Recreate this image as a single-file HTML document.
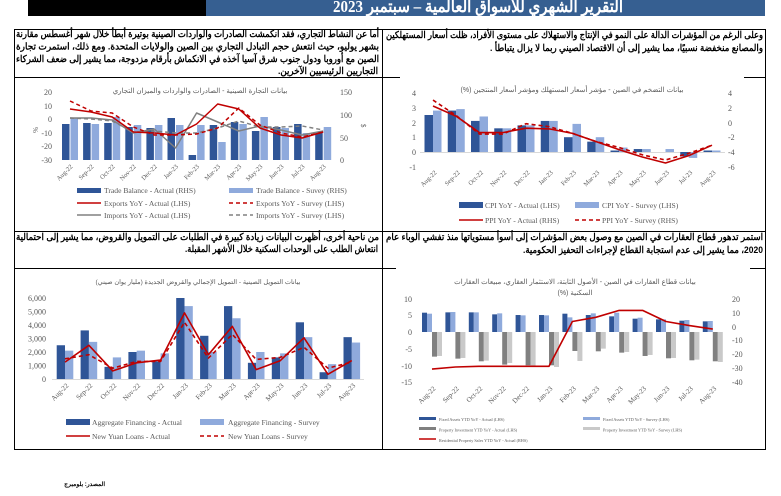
<!DOCTYPE html>
<html><head><meta charset="utf-8">
<style>
html,body{margin:0;padding:0;background:#fff;}
#wrap{position:relative;width:781px;height:496px;overflow:hidden;}
svg{position:absolute;left:0;top:0;}
svg text{font-family:"Liberation Serif",serif;fill:#595959;}
svg text.ar{font-family:"Liberation Sans","Noto Sans CJK SC",sans-serif;font-weight:bold;font-size:9.5px;fill:#000;}
</style></head><body>
<div id="wrap">
<svg width="781" height="496" viewBox="0 0 781 496" id="s">
<rect x="28" y="0" width="178" height="16" fill="#000"/>
<rect x="206" y="0" width="559" height="16" fill="#365F91"/>
<text x="623" y="12" text-anchor="start" direction="rtl" textLength="290" lengthAdjust="spacingAndGlyphs" style="font-family:'Liberation Serif',serif;font-weight:bold;font-size:17px;fill:#fff">التقرير الشهري للأسواق العالمية – سبتمبر 2023</text>
<g stroke="#000" stroke-width="1" fill="none">
<line x1="14" y1="29.5" x2="765" y2="29.5"/>
<line x1="14.5" y1="29" x2="14.5" y2="449"/>
<line x1="382.5" y1="29" x2="382.5" y2="449"/>
<line x1="765.5" y1="29" x2="765.5" y2="449"/>
<line x1="14" y1="449.5" x2="766" y2="449.5"/>
<line x1="14" y1="77.5" x2="382" y2="77.5"/>
<line x1="382" y1="77.5" x2="400" y2="77.5"/>
<line x1="744" y1="77.5" x2="765" y2="77.5"/>
<line x1="14" y1="231.5" x2="765" y2="231.5"/>
<line x1="14" y1="268.5" x2="382" y2="268.5"/>
<line x1="382" y1="268.5" x2="396" y2="268.5"/>
<line x1="750" y1="268.5" x2="765" y2="268.5"/>
</g>

<!-- paragraphs -->
<text class="ar" direction="rtl" text-anchor="start" x="379" y="37" textLength="363" lengthAdjust="spacingAndGlyphs">أما عن النشاط التجاري، فقد انكمشت الصادرات والواردات الصينية بوتيرة أبطأ خلال شهر أغسطس مقارنة</text>
<text class="ar" direction="rtl" text-anchor="start" x="379" y="49.5" textLength="363" lengthAdjust="spacingAndGlyphs">بشهر يوليو، حيث انتعش حجم التبادل التجاري بين الصين والولايات المتحدة. ومع ذلك، استمرت تجارة</text>
<text class="ar" direction="rtl" text-anchor="start" x="379" y="62" textLength="363" lengthAdjust="spacingAndGlyphs">الصين مع أوروبا ودول جنوب شرق آسيا آخذه في الانكماش بأرقام مزدوجة، مما يشير إلى ضعف الشركاء</text>
<text class="ar" direction="rtl" text-anchor="start" x="378" y="74" textLength="100" lengthAdjust="spacingAndGlyphs">التجاريين الرئيسيين الآخرين.</text>

<text class="ar" direction="rtl" text-anchor="start" x="763" y="38" textLength="377" lengthAdjust="spacingAndGlyphs">وعلى الرغم من المؤشرات الدالة على النمو في الإنتاج والاستهلاك على مستوى الأفراد، ظلت أسعار المستهلكين</text>
<text class="ar" direction="rtl" text-anchor="start" x="763" y="51" textLength="273" lengthAdjust="spacingAndGlyphs">والمصانع منخفضة نسبيًا، مما يشير إلى أن الاقتصاد الصيني ربما لا يزال يتباطأ .</text>

<text class="ar" direction="rtl" text-anchor="start" x="379" y="240" textLength="363" lengthAdjust="spacingAndGlyphs">من ناحية أخرى، أظهرت البيانات زيادة كبيرة في الطلبات على التمويل والقروض، مما يشير إلى احتمالية</text>
<text class="ar" direction="rtl" text-anchor="start" x="378" y="252" textLength="193" lengthAdjust="spacingAndGlyphs">انتعاش الطلب على الوحدات السكنية خلال الأشهر المقبلة.</text>

<text class="ar" direction="rtl" text-anchor="start" x="763" y="240" textLength="377" lengthAdjust="spacingAndGlyphs">استمر تدهور قطاع العقارات في الصين مع وصول بعض المؤشرات إلى أسوأ مستوياتها منذ تفشي الوباء عام</text>
<text class="ar" direction="rtl" text-anchor="start" x="763" y="253" textLength="240" lengthAdjust="spacingAndGlyphs">2020، مما يشير إلى عدم استجابة القطاع لإجراءات التحفيز الحكومية.</text>

<g id="shapes"></g>

<!-- Chart 1 text -->
<text x="200" y="93" text-anchor="middle" direction="rtl" style="font-family:'Liberation Sans',sans-serif;font-size:7px">بيانات التجارة الصينية - الصادرات والواردات والميزان التجاري</text>
<g style="font-size:8px" text-anchor="end">
<text x="52" y="95">20</text><text x="52" y="109">10</text><text x="52" y="122">0</text><text x="52" y="136">-10</text><text x="52" y="149">-20</text><text x="52" y="163">-30</text>
</g>
<g style="font-size:8px" text-anchor="start">
<text x="340" y="95">150</text><text x="340" y="118">100</text><text x="340" y="141">50</text><text x="340" y="163">0</text>
</g>
<text x="0" y="0" transform="translate(33,127) rotate(90)" style="font-size:7px">%</text>
<text x="0" y="0" transform="translate(361,124) rotate(90)" style="font-size:7px">$</text>
<g style="font-size:6.5px" text-anchor="end">
<text transform="translate(73,167) rotate(-45)">Aug-22</text>
<text transform="translate(94.1,167) rotate(-45)">Sep-22</text>
<text transform="translate(115.2,167) rotate(-45)">Oct-22</text>
<text transform="translate(136.3,167) rotate(-45)">Nov-22</text>
<text transform="translate(157.4,167) rotate(-45)">Dec-22</text>
<text transform="translate(178.5,167) rotate(-45)">Jan-23</text>
<text transform="translate(199.6,167) rotate(-45)">Feb-23</text>
<text transform="translate(220.7,167) rotate(-45)">Mar-23</text>
<text transform="translate(241.8,167) rotate(-45)">Apr-23</text>
<text transform="translate(262.9,167) rotate(-45)">May-23</text>
<text transform="translate(284,167) rotate(-45)">Jun-23</text>
<text transform="translate(305.1,167) rotate(-45)">Jul-23</text>
<text transform="translate(326.2,167) rotate(-45)">Aug-23</text>
</g>
<g style="font-size:7.6px">
<text x="104" y="193">Trade Balance - Actual (RHS)</text>
<text x="256" y="193">Trade Balance - Suvey (RHS)</text>
<text x="104" y="206">Exports YoY - Actual (LHS)</text>
<text x="256" y="206">Exports YoY - Survey (LHS)</text>
<text x="104" y="218">Imports YoY - Actual (LHS)</text>
<text x="256" y="218">Imports YoY - Survey (LHS)</text>
</g>

<!-- Chart 2 text -->
<text x="572" y="92" text-anchor="middle" direction="rtl" style="font-family:'Liberation Sans',sans-serif;font-size:7px">بيانات التضخم في الصين - مؤشر أسعار المستهلك ومؤشر أسعار المنتجين (%)</text>
<g style="font-size:8px" text-anchor="end">
<text x="416" y="96">4</text><text x="416" y="111">3</text><text x="416" y="126">2</text><text x="416" y="140">1</text><text x="416" y="155">0</text><text x="416" y="170">-1</text>
</g>
<g style="font-size:8px" text-anchor="start">
<text x="728" y="96">4</text><text x="728" y="111">2</text><text x="728" y="126">0</text><text x="728" y="140">-2</text><text x="728" y="155">-4</text><text x="728" y="170">-6</text>
</g>
<g style="font-size:6.5px" text-anchor="end">
<text transform="translate(437,173) rotate(-45)">Aug-22</text>
<text transform="translate(460.25,173) rotate(-45)">Sep-22</text>
<text transform="translate(483.5,173) rotate(-45)">Oct-22</text>
<text transform="translate(506.75,173) rotate(-45)">Nov-22</text>
<text transform="translate(530,173) rotate(-45)">Dec-22</text>
<text transform="translate(553.25,173) rotate(-45)">Jan-23</text>
<text transform="translate(576.5,173) rotate(-45)">Feb-23</text>
<text transform="translate(599.75,173) rotate(-45)">Mar-23</text>
<text transform="translate(623,173) rotate(-45)">Apr-23</text>
<text transform="translate(646.25,173) rotate(-45)">May-23</text>
<text transform="translate(669.5,173) rotate(-45)">Jun-23</text>
<text transform="translate(692.75,173) rotate(-45)">Jul-23</text>
<text transform="translate(716,173) rotate(-45)">Aug-23</text>
</g>
<g style="font-size:7.6px">
<text x="485" y="208">CPI YoY - Actual (LHS)</text>
<text x="602" y="208">CPI YoY - Survey (LHS)</text>
<text x="485" y="223">PPI YoY - Actual (RHS)</text>
<text x="602" y="223">PPI YoY - Survey (RHS)</text>
</g>

<!-- Chart 3 text -->
<text x="198" y="284" text-anchor="middle" direction="rtl" style="font-family:'Liberation Sans',sans-serif;font-size:6.5px">بيانات التمويل الصينية - التمويل الإجمالي والقروض الجديدة (مليار يوان صيني)</text>
<g style="font-size:8px" text-anchor="end">
<text x="46" y="301">6,000</text><text x="46" y="314.5">5,000</text><text x="46" y="328">4,000</text><text x="46" y="341.5">3,000</text><text x="46" y="355">2,000</text><text x="46" y="368.5">1,000</text><text x="46" y="382">0</text>
</g>
<g style="font-size:7px" text-anchor="end">
<text transform="translate(69,386) rotate(-45)">Aug-22</text>
<text transform="translate(92.9,386) rotate(-45)">Sep-22</text>
<text transform="translate(116.8,386) rotate(-45)">Oct-22</text>
<text transform="translate(140.7,386) rotate(-45)">Nov-22</text>
<text transform="translate(164.6,386) rotate(-45)">Dec-22</text>
<text transform="translate(188.5,386) rotate(-45)">Jan-23</text>
<text transform="translate(212.4,386) rotate(-45)">Feb-23</text>
<text transform="translate(236.3,386) rotate(-45)">Mar-23</text>
<text transform="translate(260.2,386) rotate(-45)">Apr-23</text>
<text transform="translate(284.1,386) rotate(-45)">May-23</text>
<text transform="translate(308,386) rotate(-45)">Jun-23</text>
<text transform="translate(331.9,386) rotate(-45)">Jul-23</text>
<text transform="translate(355.8,386) rotate(-45)">Aug-23</text>
</g>
<g style="font-size:7.6px">
<text x="92" y="425">Aggregate Financing - Actual</text>
<text x="228" y="425">Aggregate Financing - Survey</text>
<text x="92" y="439">New Yuan Loans - Actual</text>
<text x="228" y="439">New Yuan Loans - Survey</text>
</g>
<text x="105" y="486" text-anchor="start" direction="rtl" style="font-family:'Liberation Sans',sans-serif;font-size:6px;font-weight:bold;fill:#000">المصدر: بلومبرج</text>

<!-- Chart 4 text -->
<text x="575" y="284" text-anchor="middle" direction="rtl" style="font-family:'Liberation Sans',sans-serif;font-size:7px">بيانات قطاع العقارات في الصين - الأصول الثابتة، الاستثمار العقاري، مبيعات العقارات</text>
<text x="575" y="295" text-anchor="middle" direction="rtl" style="font-family:'Liberation Sans',sans-serif;font-size:7px">السكنية (%)</text>
<g style="font-size:8px" text-anchor="end">
<text x="412" y="302">10</text><text x="412" y="318">5</text><text x="412" y="335">0</text><text x="412" y="352">-5</text><text x="412" y="369">-10</text><text x="412" y="385">-15</text>
</g>
<g style="font-size:8px" text-anchor="start">
<text x="732" y="302">20</text><text x="732" y="316">10</text><text x="732" y="330">0</text><text x="732" y="343">-10</text><text x="732" y="357">-20</text><text x="732" y="371">-30</text><text x="732" y="385">-40</text>
</g>
<g style="font-size:7px" text-anchor="end">
<text transform="translate(436,389) rotate(-45)">Aug-22</text>
<text transform="translate(459.4,389) rotate(-45)">Sep-22</text>
<text transform="translate(482.8,389) rotate(-45)">Oct-22</text>
<text transform="translate(506.2,389) rotate(-45)">Nov-22</text>
<text transform="translate(529.6,389) rotate(-45)">Dec-22</text>
<text transform="translate(553,389) rotate(-45)">Jan-23</text>
<text transform="translate(576.4,389) rotate(-45)">Feb-23</text>
<text transform="translate(599.8,389) rotate(-45)">Mar-23</text>
<text transform="translate(623.2,389) rotate(-45)">Apr-23</text>
<text transform="translate(646.6,389) rotate(-45)">May-23</text>
<text transform="translate(670,389) rotate(-45)">Jun-23</text>
<text transform="translate(693.4,389) rotate(-45)">Jul-23</text>
<text transform="translate(716.8,389) rotate(-45)">Aug-23</text>
</g>
<g style="font-size:4.2px">
<text x="439" y="421">Fixed Assets YTD YoY - Actual (LHS)</text>
<text x="603" y="421">Fixed Assets YTD YoY - Survey (LHS)</text>
<text x="439" y="431.5">Property Investment YTD YoY - Actual (LHS)</text>
<text x="603" y="431.5">Property Investment YTD YoY - Survey (LHS)</text>
<text x="439" y="442">Residential Property Sales YTD YoY - Actual (RHS)</text>
</g>
</svg>
</div>
<script>
(function(){
var NS="http://www.w3.org/2000/svg",g=document.getElementById("shapes");
function el(t,a){var e=document.createElementNS(NS,t);for(var k in a)e.setAttribute(k,a[k]);g.appendChild(e);return e;}
function bar(x,w,y1,y2,c){el("rect",{x:x,y:Math.min(y1,y2),width:w,height:Math.abs(y2-y1),fill:c});}
function line(xs,ys,c,dash,sw){var p=xs.map(function(x,i){return x.toFixed(1)+","+ys[i].toFixed(1)}).join(" ");var a={points:p,fill:"none",stroke:c,"stroke-width":sw||1.6,"stroke-linejoin":"round"};if(dash)a["stroke-dasharray"]=dash;el("polyline",a);}
var DB="#2F5597",LB="#8FAADC",RED="#C00000",GR="#808080",LG="#C9C9C9";
var i,xs;
xs=[];for(i=0;i<13;i++)xs.push(70+i*21.1);
var ta=[124,123,123,127,128,118,155,125,122,131,127,124,132];
var ts=[118,124,117,125,125,125,125,142,124,117,128,133,127];
for(i=0;i<13;i++){bar(xs[i]-8,7.5,ta[i],160,DB);bar(xs[i]+0.5,7.5,ts[i],160,LB);}
line(xs,[118,118,120,133,129,148,113,122,131,126,130,135,131],GR,null,1.5);
line(xs,[118,119,121,132,131,133,133,128,121,127,127,126,130],GR,"4,3",1.5);
line(xs,[109,112,117,132,133,135,124,104,109,128,135,138,132],RED,null,1.5);
line(xs,[101,111,113,127,135,135,134,128,108,125,133,137,132],RED,"4,3",1.5);
bar(77,24,188,193,DB);bar(229,24,188,193,LB);
el("line",{x1:77,y1:203,x2:101,y2:203,stroke:RED,"stroke-width":1.6});
el("line",{x1:229,y1:203,x2:253,y2:203,stroke:RED,"stroke-width":1.6,"stroke-dasharray":"4,3"});
el("line",{x1:77,y1:215,x2:101,y2:215,stroke:GR,"stroke-width":1.6});
el("line",{x1:229,y1:215,x2:253,y2:215,stroke:GR,"stroke-width":1.6,"stroke-dasharray":"4,3"});
xs=[];for(i=0;i<13;i++)xs.push(433+i*23.25);
var ca=[2.5,2.8,2.1,1.6,1.8,2.1,1.0,0.7,0.1,0.2,0.0,-0.3,0.1];
var cs=[2.8,2.9,2.4,1.6,1.8,2.1,1.9,1.0,0.3,0.2,0.2,-0.4,0.1];
el("line",{x1:420,y1:152.5,x2:725,y2:152.5,stroke:"#D9D9D9","stroke-width":1});
for(i=0;i<13;i++){bar(xs[i]-8.5,8.5,152-ca[i]*14.8,152,DB);bar(xs[i],8.5,152-cs[i]*14.8,152,LB);}
var pa=[2.3,0.9,-1.3,-1.3,-0.7,-0.8,-1.4,-2.5,-3.6,-4.6,-5.4,-4.4,-3.0];
var ps=[3.1,1.0,-1.5,-1.5,-0.1,-0.5,-1.4,-2.5,-3.3,-4.3,-5.0,-4.1,-3.0];
line(xs,pa.map(function(v){return 123-v*7.4}),RED,null,1.6);
line(xs,ps.map(function(v){return 123-v*7.4}),RED,"4,3",1.6);
bar(459,24,202,208,DB);bar(575,24,202,208,LB);
el("line",{x1:459,y1:220,x2:483,y2:220,stroke:RED,"stroke-width":1.6});
el("line",{x1:575,y1:220,x2:600,y2:220,stroke:RED,"stroke-width":1.6,"stroke-dasharray":"4,3"});
xs=[];for(i=0;i<13;i++)xs.push(65+i*23.9);
var aa=[2.5,3.6,0.9,2.0,1.3,6.0,3.2,5.4,1.2,1.6,4.2,0.5,3.1];
var as=[2.1,2.75,1.6,2.1,1.9,5.4,2.0,4.5,2.0,1.9,3.1,1.1,2.7];
for(i=0;i<13;i++){bar(xs[i]-8.3,8.3,379-aa[i]*13.5,379,DB);bar(xs[i],8.3,379-as[i]*13.5,379,LB);}
el("line",{x1:52,y1:379.5,x2:364,y2:379.5,stroke:"#D9D9D9","stroke-width":1});
var la=[1.25,2.5,0.6,1.2,1.4,4.9,1.8,3.9,0.7,1.35,3.05,0.35,1.36];
var ls=[1.5,1.8,0.8,1.3,1.3,4.2,1.55,3.3,1.45,1.6,2.35,0.8,1.25];
line(xs,la.map(function(v){return 379-v*13.5}),RED,null,1.6);
line(xs,ls.map(function(v){return 379-v*13.5}),RED,"4,3",1.6);
bar(66,24,419,425,DB);bar(200,24,419,425,LB);
el("line",{x1:66,y1:436,x2:90,y2:436,stroke:RED,"stroke-width":1.6});
el("line",{x1:200,y1:436,x2:224,y2:436,stroke:RED,"stroke-width":1.6,"stroke-dasharray":"4,3"});
var st=[];for(i=0;i<13;i++)st.push(422+i*23.4);
var fa=[5.8,5.9,5.9,5.3,5.1,5.1,5.5,5.1,4.7,4.0,3.8,3.4,3.2];
var fs=[5.5,6.0,5.9,5.6,5.0,5.0,4.4,5.6,5.8,4.3,3.8,3.6,3.3];
var pia=[-7.4,-8.0,-8.8,-9.8,-10.0,-10.0,-5.7,-5.8,-6.2,-7.2,-7.9,-8.5,-8.8];
var pis=[-7.2,-7.8,-8.6,-9.3,-10.5,-10.5,-8.7,-5.0,-6.0,-6.9,-7.8,-8.3,-9.0];
function y4(v){return 332-v*3.33;}
for(i=0;i<13;i++){bar(st[i],5,y4(fa[i]),332,DB);bar(st[i]+5,5,y4(fs[i]),332,LB);bar(st[i]+10,5,332,y4(pia[i]),GR);bar(st[i]+15,5,332,y4(pis[i]),LG);}
var rs=[-30.5,-29,-28.5,-28.5,-28.5,-28.5,4,7,12,12,4,1,-1.5];
line(st.map(function(x){return x+10}),rs.map(function(v){return 327-v*1.38}),RED,null,1.6);
bar(419,17,417,420,DB);bar(583,17,417,420,LB);bar(419,17,427,430,GR);bar(583,17,427,430,LG);
el("line",{x1:419,y1:439,x2:436,y2:439,stroke:RED,"stroke-width":1.6});
})();
</script>
</body></html>
